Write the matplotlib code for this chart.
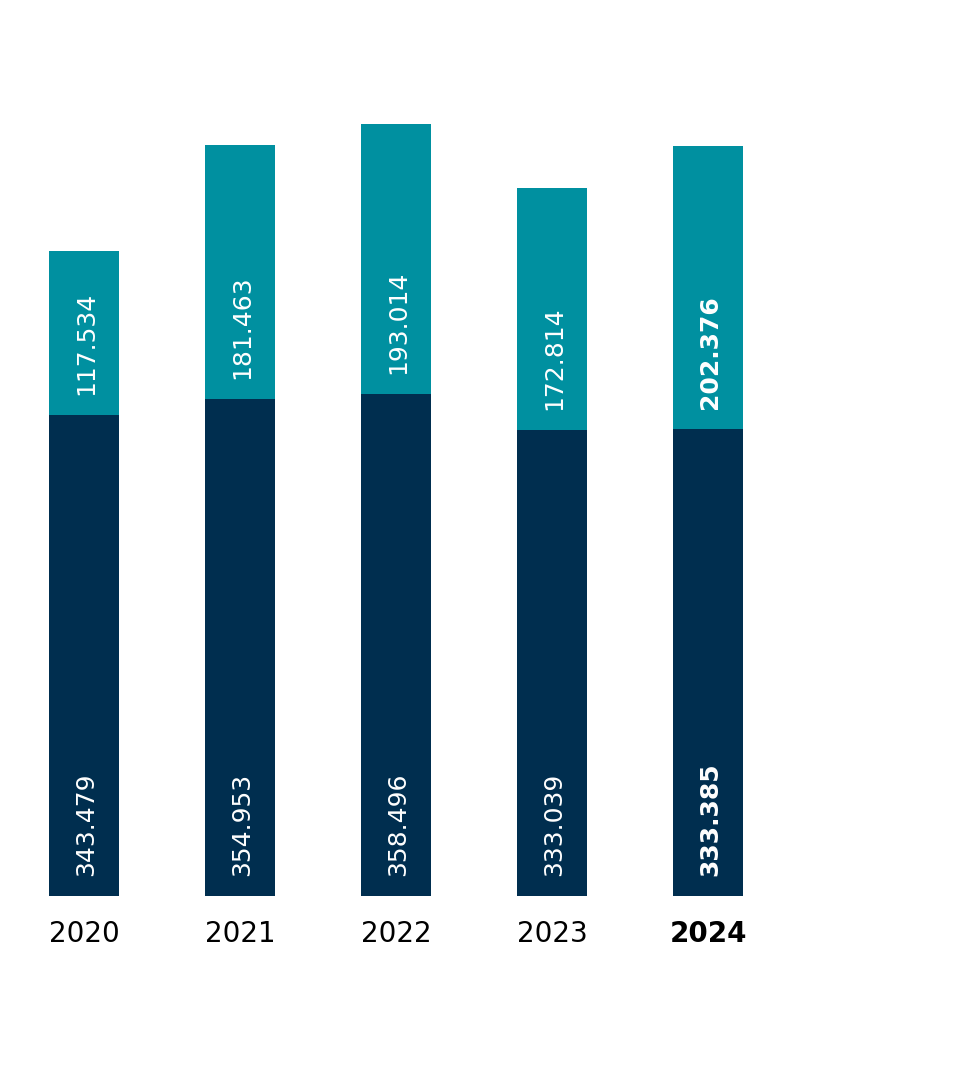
import matplotlib
matplotlib.use("Agg")
import matplotlib.pyplot as plt

years = ["2020", "2021", "2022", "2023", "2024"]
bottom_vals = [343.479, 354.953, 358.496, 333.039, 333.385]
top_vals = [117.534, 181.463, 193.014, 172.814, 202.376]
bottom_labels = ["343.479", "354.953", "358.496", "333.039", "333.385"]
top_labels = ["117.534", "181.463", "193.014", "172.814", "202.376"]
bold_flags = [False, False, False, False, True]

NAVY = "#002E4F"
TEAL = "#0090A0"

fig = plt.figure(figsize=(9.6, 10.9), dpi=100)
ax = fig.add_axes([0, 194 / 1090, 1, 896 / 1090])

x = list(range(len(years)))
w = 0.45
ax.bar(x, bottom_vals, width=w, color=NAVY, linewidth=0)
ax.bar(x, top_vals, width=w, bottom=bottom_vals, color=TEAL, linewidth=0)

ax.set_xlim(-84 / 156, (960 - 84) / 156)
ax.set_ylim(0, 896 / 1.40)
ax.axis("off")

for i in x:
    fw = "bold" if bold_flags[i] else "normal"
    ax.annotate(bottom_labels[i], xy=(i, 0), xytext=(1.5, 14.5), textcoords="offset points",
                rotation=90, ha="center", va="bottom", color="white", fontsize=18, fontweight=fw)
    ax.annotate(top_labels[i], xy=(i, bottom_vals[i]), xytext=(1.5, 14.5), textcoords="offset points",
                rotation=90, ha="center", va="bottom", color="white", fontsize=18, fontweight=fw)
    ax.annotate(years[i], xy=(i, 0), xytext=(0, -17), textcoords="offset points",
                ha="center", va="top", color="black", fontsize=20, fontweight=fw,
                annotation_clip=False)

fig.savefig("out.png", dpi=100, facecolor="white")
